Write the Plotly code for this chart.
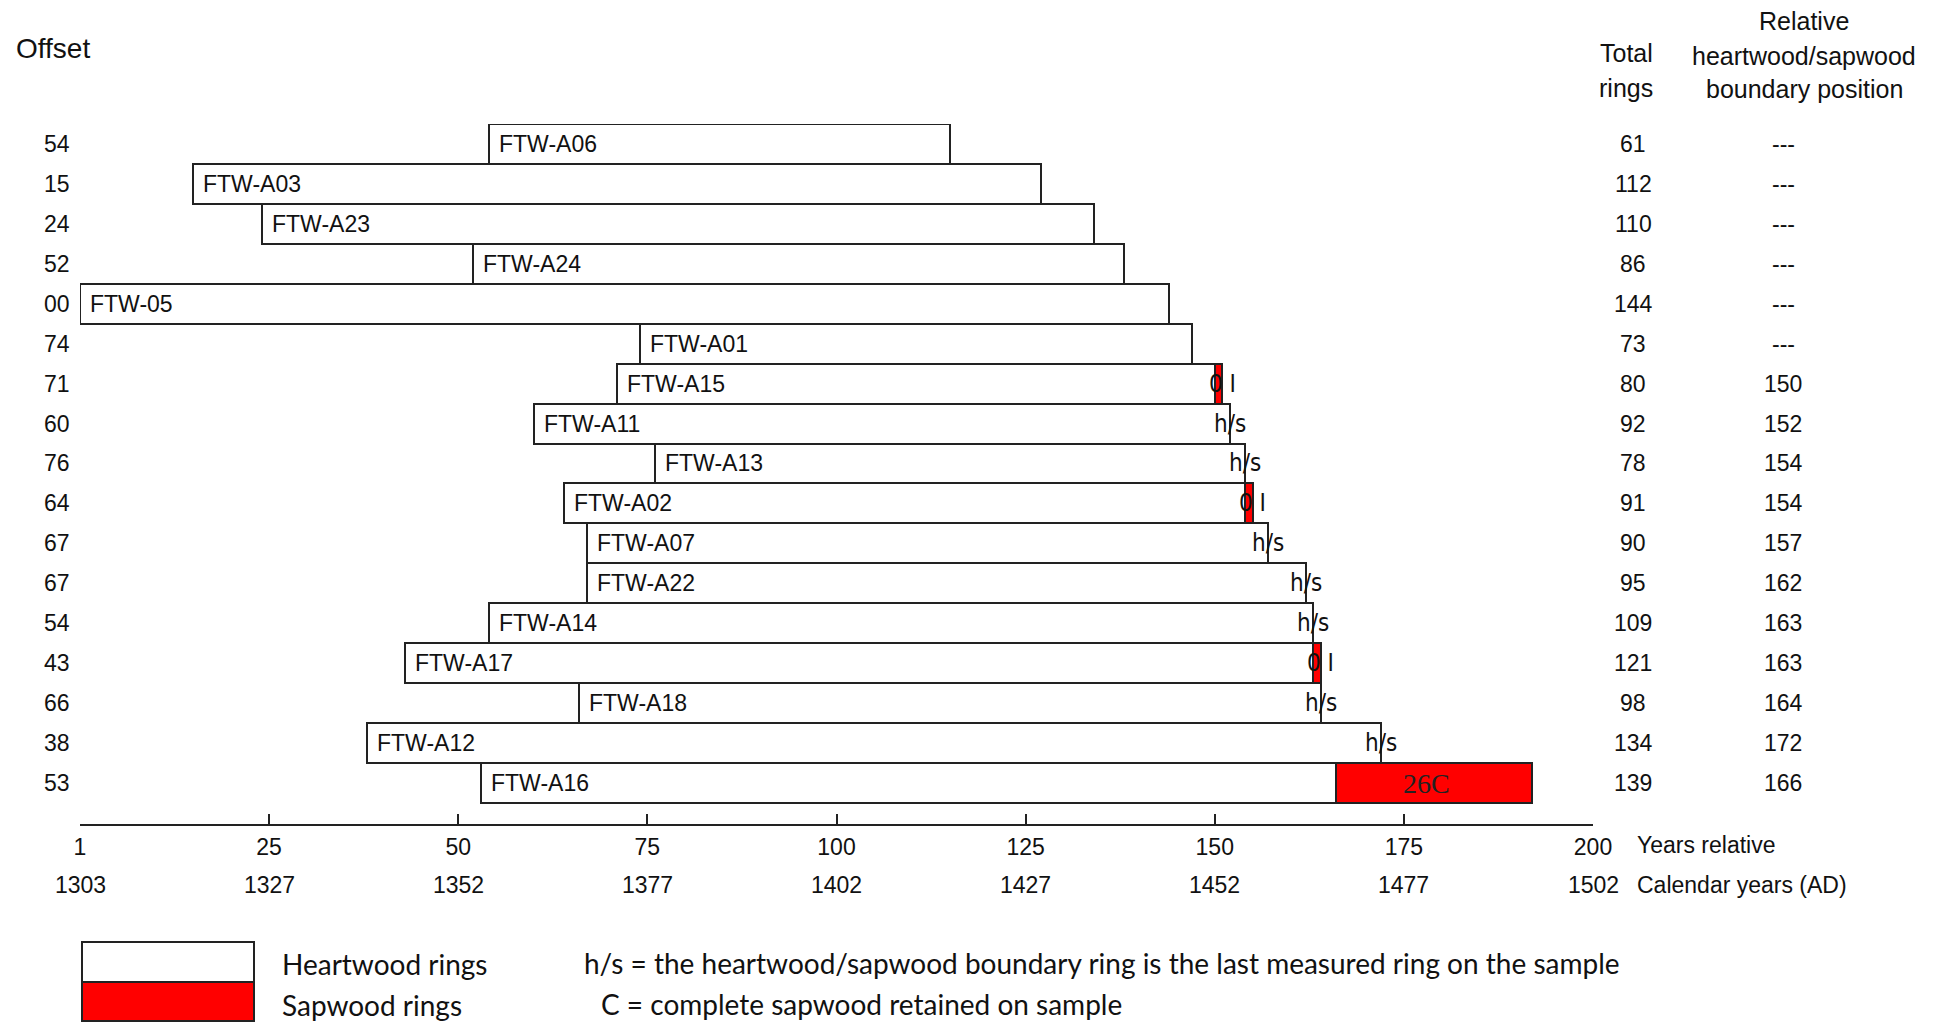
import plotly.graph_objects as go

# ---------------- data ----------------
names = ["FTW-A06", "FTW-A03", "FTW-A23", "FTW-A24", "FTW-05", "FTW-A01", "FTW-A15",
         "FTW-A11", "FTW-A13", "FTW-A02", "FTW-A07", "FTW-A22", "FTW-A14", "FTW-A17",
         "FTW-A18", "FTW-A12", "FTW-A16"]
offsets = [54, 15, 24, 52, 0, 74, 71, 60, 76, 64, 67, 67, 54, 43, 66, 38, 53]
total_rings = [61, 112, 110, 86, 144, 73, 80, 92, 78, 91, 90, 95, 109, 121, 98, 134, 139]
hs_boundary = [None, None, None, None, None, None, 150, 152, 154, 154, 157, 162, 163, 163, 164, 172, 166]
end_labels = ["", "", "", "", "", "", "0 I", "h/s", "h/s", "0 I", "h/s", "h/s", "h/s", "0 I", "h/s", "h/s", "26C"]

tick_vals = [0, 25, 50, 75, 100, 125, 150, 175, 200]
rel_tick_text = ["1", "25", "50", "75", "100", "125", "150", "175", "200"]
cal_tick_text = ["1303", "1327", "1352", "1377", "1402", "1427", "1452", "1477", "1502"]

# ---------------- layout geometry ----------------
W_FIG, H_FIG = 1937, 1022
ML, MR, MT, MB = 80, 344, 124, 198
PW = W_FIG - ML - MR
PH = H_FIG - MT - MB
ROW_H = 39.94
N = len(names)
y_bottom = (PH / ROW_H) - 0.5


def px(x):
    return (x - ML) / PW


def py(y):
    return (H_FIG - MB - y) / PH


SANS = "Liberation Sans, Arial, sans-serif"
HS_FONT = "DejaVu Sans Condensed, DejaVu Sans, sans-serif"
GILL = "Lato, sans-serif"
LINE = "#222222"
TXT = "#111111"

rows = list(range(N))
ends = [o + t for o, t in zip(offsets, total_rings)]
heart_len = [(h if h is not None else e) - o for h, e, o in zip(hs_boundary, ends, offsets)]

sap_rows = [i for i in rows if hs_boundary[i] is not None and ends[i] > hs_boundary[i]]
sap_base = [hs_boundary[i] for i in sap_rows]
sap_len = [ends[i] - hs_boundary[i] for i in sap_rows]

fig = go.Figure()
fig.add_trace(go.Bar(
    orientation="h", y=rows, base=offsets, x=heart_len, width=1,
    marker=dict(color="white", line=dict(color=LINE, width=2)),
    showlegend=False, hoverinfo="skip"))
fig.add_trace(go.Bar(
    orientation="h", y=sap_rows, base=sap_base, x=sap_len, width=1,
    marker=dict(color="#ff0000", line=dict(color=LINE, width=2)),
    showlegend=False, hoverinfo="skip"))

ann = []
# sample names inside bars
for i in rows:
    ann.append(dict(x=offsets[i], y=i, xref="x", yref="y", text=names[i], showarrow=False,
                    xanchor="left", xshift=8, font=dict(family=SANS, size=23, color=TXT)))
# end labels
for i in rows:
    lab = end_labels[i]
    if not lab:
        continue
    if lab.endswith("C") and hs_boundary[i] is not None:
        ann.append(dict(x=(hs_boundary[i] + ends[i]) / 2, y=i, xref="x", yref="y", text=lab,
                        showarrow=False, xanchor="center", xshift=-8,
                        font=dict(family="Liberation Serif, serif", size=28, color="#222222")))
    else:
        ann.append(dict(x=ends[i], y=i, xref="x", yref="y", text=lab, showarrow=False,
                        xanchor="center", font=dict(family=HS_FONT, size=24, color=TXT)))
# offset column
for i in rows:
    ann.append(dict(x=px(72), y=i, xref="paper", yref="y", text=f"{offsets[i]:02d}",
                    showarrow=False, xanchor="right", font=dict(family=SANS, size=23, color=TXT)))
# total rings column
for i in rows:
    ann.append(dict(x=px(1633), y=i, xref="paper", yref="y", text=str(total_rings[i]),
                    showarrow=False, xanchor="center", font=dict(family=SANS, size=23, color=TXT)))
# relative boundary position column
for i in rows:
    val = "---" if hs_boundary[i] is None else str(hs_boundary[i])
    ann.append(dict(x=px(1783), y=i, xref="paper", yref="y", text=val,
                    showarrow=False, xanchor="center", font=dict(family=SANS, size=23, color=TXT)))
# calendar-year tick row
for v, t in zip(tick_vals, cal_tick_text):
    ann.append(dict(x=v, y=py(885), xref="x", yref="paper", text=t, showarrow=False,
                    xanchor="center", yanchor="middle", font=dict(family=SANS, size=23, color=TXT)))


# headers
def header(text, x, y, anchor="center", size=24, family=SANS):
    ann.append(dict(x=px(x), y=py(y), xref="paper", yref="paper", text=text, showarrow=False,
                    xanchor=anchor, yanchor="middle", font=dict(family=family, size=size, color=TXT)))


header("Offset", 14, 49, anchor="left", size=28)
header("Total", 1626, 53, size=25)
header("rings", 1626, 88, size=25)
header("Relative", 1804, 21, size=25)
header("heartwood/sapwood", 1804, 56, size=25)
header("boundary position", 1804, 89, size=25)
header("Years relative", 1635, 845, anchor="left", size=23)
header("Calendar years (AD)", 1635, 885, anchor="left", size=23)

# legend texts
header("Heartwood rings", 280, 964, anchor="left", size=28, family=GILL)
header("Sapwood rings", 280, 1005, anchor="left", size=28, family=GILL)
header("h/s = the heartwood/sapwood boundary ring is the last measured ring on the sample",
       582, 963, anchor="left", size=28, family=GILL)
header("C = complete sapwood retained on sample", 599, 1004, anchor="left", size=28, family=GILL)

shapes = [
    dict(type="rect", xref="paper", yref="paper", x0=px(82), x1=px(254), y0=py(982), y1=py(942),
         fillcolor="white", line=dict(color=LINE, width=2)),
    dict(type="rect", xref="paper", yref="paper", x0=px(82), x1=px(254), y0=py(1021), y1=py(982),
         fillcolor="#ff0000", line=dict(color=LINE, width=2)),
]

fig.update_layout(
    width=W_FIG, height=H_FIG,
    margin=dict(l=ML, r=MR, t=MT, b=MB, pad=0),
    paper_bgcolor="white", plot_bgcolor="white",
    barmode="overlay", bargap=0,
    annotations=ann, shapes=shapes, showlegend=False,
    xaxis=dict(range=[0, 200], showgrid=False, zeroline=False, showline=True,
               linecolor=LINE, linewidth=2, ticks="inside", ticklen=10, tickwidth=2,
               tickcolor=LINE, tickvals=tick_vals, ticktext=rel_tick_text,
               tickfont=dict(family=SANS, size=23, color=TXT), ticklabelstandoff=1,
               fixedrange=True),
    yaxis=dict(range=[y_bottom, -0.5], visible=False, fixedrange=True),
)

fig.write_html("out.html", config={"displayModeBar": False},
               post_script="document.body.style.margin='0';document.body.style.overflow='hidden';")
